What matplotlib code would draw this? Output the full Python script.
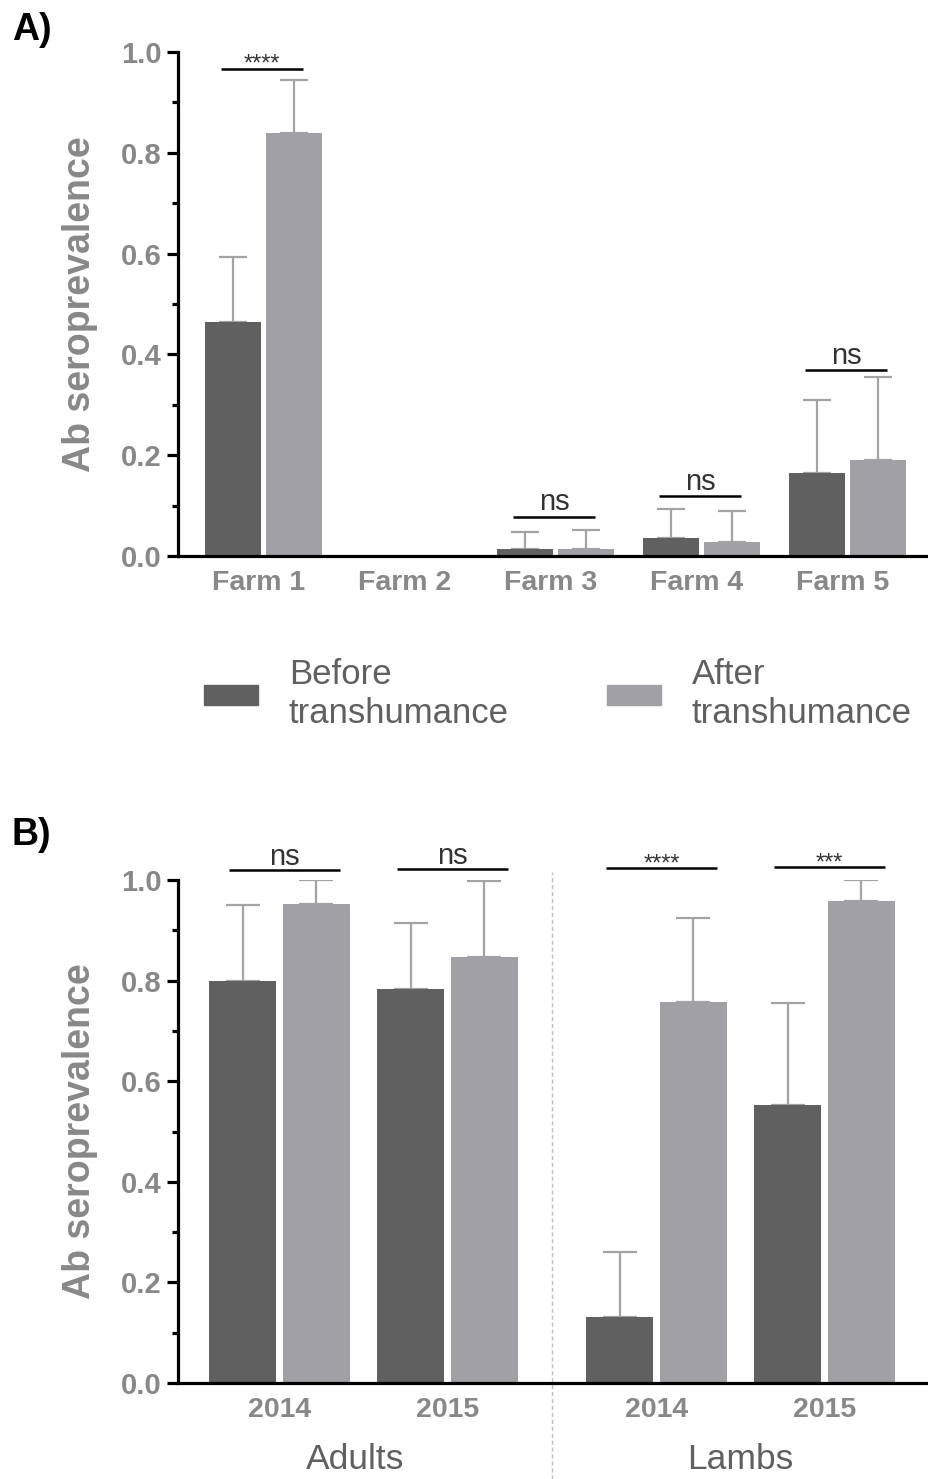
import matplotlib
matplotlib.use("Agg")
import matplotlib.pyplot as plt
import matplotlib.transforms as mtrans
import numpy as np
from matplotlib.ticker import MultipleLocator, FormatStrFormatter

plt.rcParams['font.family'] = ['Liberation Sans', 'DejaVu Sans']

# ---------------- data ----------------
farms = ["Farm 1", "Farm 2", "Farm 3", "Farm 4", "Farm 5"]
farm_before = [0.464, 0.0, 0.013, 0.036, 0.164]
farm_before_hi = [0.593, np.nan, 0.047, 0.094, 0.309]
farm_after = [0.839, 0.0, 0.014, 0.027, 0.191]
farm_after_hi = [0.944, np.nan, 0.051, 0.089, 0.356]
farm_sig = ["****", "", "ns", "ns", "ns"]
farm_sig_y = [0.966, None, 0.078, 0.119, 0.369]

years = ["2014", "2015", "2014", "2015"]
groups = ["Adults", "Lambs"]
b_before = [0.799, 0.783, 0.131, 0.553]
b_before_hi = [0.950, 0.915, 0.260, 0.755]
b_after = [0.952, 0.847, 0.757, 0.958]
b_after_hi = [1.000, 0.998, 0.924, 1.000]
b_sig = ["ns", "ns", "****", "***"]
b_sig_y = [1.020, 1.022, 1.024, 1.026]

legend_labels = ["Before\ntranshumance", "After\ntranshumance"]

# ---------------- style ----------------
C_BEFORE = "#606060"
C_AFTER = "#a1a1a5"
C_ERR = "#a3a3a3"
C_TICK = "#888888"
C_TEXT = "#606060"
SPINE_W = 2.3

W, H = 929, 1479
fig = plt.figure(figsize=(W / 100, H / 100), dpi=100)


def style_axis(ax):
    for s in ["top", "right"]:
        ax.spines[s].set_visible(False)
    ax.spines["left"].set_linewidth(SPINE_W)
    ax.spines["bottom"].set_linewidth(SPINE_W)
    ax.spines["left"].set_bounds(0, 1)
    ax.set_ylim(0, 1)
    ax.yaxis.set_major_locator(MultipleLocator(0.2))
    ax.yaxis.set_minor_locator(MultipleLocator(0.1))
    ax.yaxis.set_major_formatter(FormatStrFormatter("%.1f"))
    ax.tick_params(axis="y", which="major", length=8, width=SPINE_W,
                   labelsize=21, labelcolor=C_TICK, pad=4)
    ax.tick_params(axis="y", which="minor", length=4.5, width=SPINE_W)
    ax.tick_params(axis="x", length=0, labelsize=20.5, labelcolor=C_TICK, pad=10)
    for lbl in ax.get_yticklabels() + ax.get_xticklabels():
        lbl.set_fontweight("bold")
    ax.set_ylabel("Ab seroprevalence", fontsize=27, fontweight="bold",
                  color=C_TICK)
    ax.yaxis.set_label_coords(-0.106, 0.5)
    ax.set_facecolor("none")


def upper_err(vals, hi):
    return [[0] * len(vals), [h - v if not np.isnan(h) else 0 for v, h in zip(vals, hi)]]


def sig_text(ax, x, y, s):
    if "*" in s:
        ax.text(x, y - 0.012, s, ha="center", va="bottom", fontsize=17,
                color="#333333", clip_on=False)
    else:
        ax.text(x, y + 0.001, s, ha="center", va="bottom", fontsize=21,
                color="#333333", clip_on=False)


# ---------------- panel A ----------------
axA = fig.add_axes([178 / W, 1 - 556 / H, 1 - 178 / W, (556 - 52) / H])
xA = np.arange(len(farms))
bwA, offA = 0.384, 0.209
axA.bar(xA - offA, farm_before, bwA, color=C_BEFORE, zorder=2)
axA.bar(xA + offA, farm_after, bwA, color=C_AFTER, zorder=2)
mA = [i for i in range(len(farms)) if not np.isnan(farm_before_hi[i])]
axA.errorbar(xA[mA] - offA, [farm_before[i] for i in mA],
             yerr=upper_err([farm_before[i] for i in mA], [farm_before_hi[i] for i in mA]),
             fmt="none", ecolor=C_ERR, elinewidth=1.6, capsize=10, capthick=1.6, zorder=1)
axA.errorbar(xA[mA] + offA, [farm_after[i] for i in mA],
             yerr=upper_err([farm_after[i] for i in mA], [farm_after_hi[i] for i in mA]),
             fmt="none", ecolor=C_ERR, elinewidth=1.6, capsize=10, capthick=1.6, zorder=1)
axA.set_xlim(-0.586, 4.558)
axA.set_xticks(xA)
axA.set_xticklabels(farms)
style_axis(axA)
shift = mtrans.ScaledTranslation(-5 / 100, 0, fig.dpi_scale_trans)
for lbl in axA.get_xticklabels():
    lbl.set_transform(lbl.get_transform() + shift)
for i, (s, y) in enumerate(zip(farm_sig, farm_sig_y)):
    if not s:
        continue
    axA.plot([xA[i] - 0.29, xA[i] + 0.27], [y, y], color="black", lw=1.8,
             clip_on=False, solid_capstyle="butt")
    sig_text(axA, xA[i] - 0.01, y, s)

# ---------------- panel B ----------------
axB = fig.add_axes([178 / W, 1 - 1383 / H, 1 - 178 / W, (1383 - 880) / H])
gap = 1.244
xB = np.array([0, 1, gap + 1, gap + 2], dtype=float)
bwB, offB = 0.399, 0.22
axB.bar(xB - offB, b_before, bwB, color=C_BEFORE, zorder=2)
axB.bar(xB + offB, b_after, bwB, color=C_AFTER, zorder=2)
axB.errorbar(xB - offB, b_before, yerr=upper_err(b_before, b_before_hi),
             fmt="none", ecolor=C_ERR, elinewidth=1.6, capsize=12, capthick=1.6, zorder=1)
axB.errorbar(xB + offB, b_after, yerr=upper_err(b_after, b_after_hi),
             fmt="none", ecolor=C_ERR, elinewidth=1.6, capsize=12, capthick=1.6, zorder=1)
axB.set_xlim(-0.604, 3.866)
axB.set_xticks(xB)
axB.set_xticklabels(years)
style_axis(axB)
for i, (s, y) in enumerate(zip(b_sig, b_sig_y)):
    axB.plot([xB[i] - 0.3, xB[i] + 0.36], [y, y], color="black", lw=1.8,
             clip_on=False, solid_capstyle="butt")
    sig_text(axB, xB[i] + 0.03, y - 0.004, s)
sep = (xB[1] + xB[2]) / 2
axB.plot([sep, sep], [-0.19, 1.016], color="#c0c0c0", lw=1.0, ls=(0, (3, 2)),
         clip_on=False, zorder=0)
group_centers = [(xB[0] + xB[1]) / 2 - 0.05, (xB[2] + xB[3]) / 2]
for g, c in zip(groups, group_centers):
    axB.text(c, -0.152, g, ha="center", va="center", fontsize=25.5,
             color=C_TEXT, transform=axB.transData, clip_on=False)

# ---------------- legend ----------------
hb = plt.Rectangle((0, 0), 1, 1, color=C_BEFORE)
ha = plt.Rectangle((0, 0), 1, 1, color=C_AFTER)
fig.legend([hb, ha], legend_labels, loc="center left",
           bbox_to_anchor=(204 / W, 1 - 694 / H), ncol=2, frameon=False,
           fontsize=25, labelcolor=C_TEXT, handlelength=1.56, handleheight=0.52,
           handletextpad=0.88, columnspacing=2.83, borderpad=0, borderaxespad=0)

# ---------------- panel titles ----------------
fig.text(12 / W, 1 - 12 / H, "A)", fontsize=27, fontweight="bold", va="top", ha="left")
fig.text(12 / W, 1 - 817 / H, "B)", fontsize=27, fontweight="bold", va="top", ha="left")

fig.savefig("out.png", dpi=100)
